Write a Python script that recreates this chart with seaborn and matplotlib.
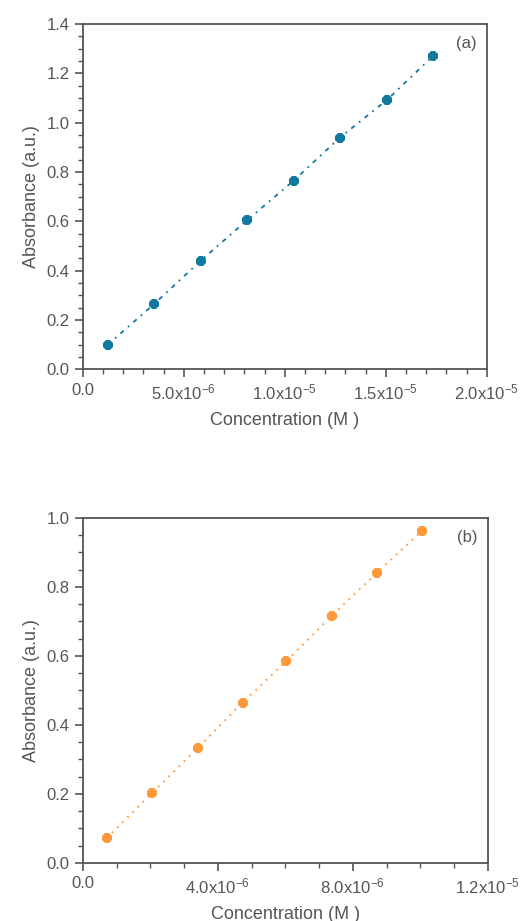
import matplotlib
matplotlib.use("Agg")
import matplotlib.pyplot as plt
import seaborn as sns
import pandas as pd
from matplotlib.ticker import MultipleLocator, FuncFormatter

# Data
conc_a = [1.22e-6, 3.53e-6, 5.83e-6, 8.14e-6, 1.044e-5, 1.272e-5, 1.506e-5, 1.736e-5]
abs_a = [0.099, 0.265, 0.440, 0.605, 0.765, 0.939, 1.092, 1.272]
conc_b = [0.71e-6, 2.05e-6, 3.41e-6, 4.73e-6, 6.03e-6, 7.38e-6, 8.71e-6, 10.04e-6]
abs_b = [0.0725, 0.203, 0.334, 0.465, 0.585, 0.717, 0.841, 0.962]
xticks_a = [0.0, 5e-6, 1e-5, 1.5e-5, 2e-5]
xticklabels_a = ["0.0", "5.0x10$^{-6}$", "1.0x10$^{-5}$", "1.5x10$^{-5}$", "2.0x10$^{-5}$"]
xticks_b = [0.0, 4e-6, 8e-6, 1.2e-5]
xticklabels_b = ["0.0", "4.0x10$^{-6}$", "8.0x10$^{-6}$", "1.2x10$^{-5}$"]

sns.set_style("ticks")
plt.rcParams['font.family'] = ['Liberation Sans', 'DejaVu Sans']
plt.rcParams['mathtext.fontset'] = 'custom'
plt.rcParams['mathtext.rm'] = 'Liberation Sans'
plt.rcParams['mathtext.it'] = 'Liberation Sans:italic'
plt.rcParams['mathtext.bf'] = 'Liberation Sans:bold'

TXT = '#555555'
SPINE = '#555555'

fig = plt.figure(figsize=(5.28, 9.21), dpi=100)
ax1 = fig.add_axes([0.157, 0.599, 0.765, 0.375])
ax2 = fig.add_axes([0.157, 0.063, 0.767, 0.3746])

df_a = pd.DataFrame({"Concentration": conc_a, "Absorbance": abs_a})
df_b = pd.DataFrame({"Concentration": conc_b, "Absorbance": abs_b})

def style(ax, xlim, ylim, xticks, xlabels, yminor, xminor, ymajor, tag):
    ax.set_xlim(*xlim)
    ax.set_ylim(*ylim)
    ax.set_xticks(xticks)
    ax.set_xticklabels(xlabels)
    ax.xaxis.set_minor_locator(MultipleLocator(xminor))
    ax.yaxis.set_major_locator(MultipleLocator(ymajor))
    ax.yaxis.set_minor_locator(MultipleLocator(yminor))
    ax.yaxis.set_major_formatter(FuncFormatter(lambda v, p: f"{v:.1f}"))
    for s in ax.spines.values():
        s.set_color(SPINE)
        s.set_linewidth(1.3)
    ax.tick_params(which='major', direction='out', length=6, width=1.2, color=SPINE,
                   labelsize=12, labelcolor=TXT, top=False, right=False)
    ax.tick_params(which='minor', direction='out', length=3.5, width=1.0, color=SPINE,
                   top=False, right=False)
    ax.set_xlabel("Concentration (M )", fontsize=13, color=TXT, labelpad=7)
    ax.set_ylabel("Absorbance (a.u.)", fontsize=13, color=TXT, labelpad=5)
    ax.text(0.975, 0.965, tag, transform=ax.transAxes, ha='right', va='top',
            fontsize=12, color=TXT)

sns.lineplot(data=df_a, x="Concentration", y="Absorbance", ax=ax1, color='#11799f',
             marker='8', markersize=8, markeredgewidth=0, linewidth=1.3,
             linestyle=(0, (2.5, 3, 1, 3)))
sns.lineplot(data=df_b, x="Concentration", y="Absorbance", ax=ax2, color='#ff9838',
             marker='8', markersize=8, markeredgewidth=0, linewidth=1.3,
             linestyle=(0, (1, 3)))

style(ax1, (0, 2e-5), (0, 1.4), xticks_a, xticklabels_a, 0.05, 1e-6, 0.2, "(a)")
style(ax2, (0, 1.2e-5), (0, 1.0), xticks_b, xticklabels_b, 0.05, 1e-6, 0.2, "(b)")

fig.savefig("out.png", dpi=100)
